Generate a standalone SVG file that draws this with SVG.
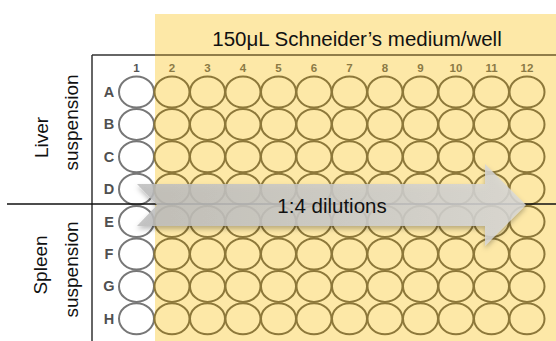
<svg xmlns="http://www.w3.org/2000/svg" width="556" height="341" viewBox="0 0 556 341">
<style>
.t{font-family:"Liberation Sans",Arial,sans-serif;fill:#111}
.lbl{font-size:19px}
.rowl{font-family:"Liberation Sans",Arial,sans-serif;font-weight:bold;font-size:14.5px;fill:#505050;text-anchor:middle}
.coln{font-family:"Liberation Sans",Arial,sans-serif;font-weight:bold;font-size:11.5px;fill:#8b7a45;text-anchor:middle}
.w1{fill:none;stroke:#777;stroke-width:2}
.w{fill:none;stroke:#8d783a;stroke-width:2}
</style>
<defs>
<linearGradient id="ag" x1="0" y1="0" x2="1" y2="0">
<stop offset="0" stop-color="#bcbcbc"/>
<stop offset="1" stop-color="#d8d8d8"/>
</linearGradient>
<filter id="sh" x="-5%" y="-20%" width="110%" height="150%">
<feDropShadow dx="0" dy="3" stdDeviation="2.5" flood-color="#000" flood-opacity="0.3"/>
</filter>
</defs>
<rect width="556" height="341" fill="#fff"/>
<g id="medium">
<rect x="155" y="14" width="401" height="327" fill="#fde8a7"/>
<text class="t" x="357" y="46" font-size="20.5" text-anchor="middle">150μL Schneider’s medium/well</text>
</g>
<g id="plate">
<line x1="92" y1="55" x2="92" y2="341" stroke="#333" stroke-width="1.5"/>
<line x1="92" y1="55" x2="155" y2="55" stroke="#333" stroke-width="1.5"/>
<line x1="155" y1="55" x2="556" y2="55" stroke="#6b5a2a" stroke-width="1.5"/>
<g id="col-numbers">
<text class="coln" x="136.5" y="72" style="fill:#555">1</text>
<text class="coln" x="172" y="72">2</text>
<text class="coln" x="207.5" y="72">3</text>
<text class="coln" x="243" y="72">4</text>
<text class="coln" x="278.5" y="72">5</text>
<text class="coln" x="314" y="72">6</text>
<text class="coln" x="349.5" y="72">7</text>
<text class="coln" x="385" y="72">8</text>
<text class="coln" x="420.5" y="72">9</text>
<text class="coln" x="456" y="72">10</text>
<text class="coln" x="491.5" y="72">11</text>
<text class="coln" x="527" y="72">12</text>
</g>
<g id="row-letters">
<text class="rowl" x="109" y="97">A</text>
<text class="rowl" x="109" y="129.4">B</text>
<text class="rowl" x="109" y="161.8">C</text>
<text class="rowl" x="109" y="194.2">D</text>
<text class="rowl" x="109" y="226.6">E</text>
<text class="rowl" x="109" y="259">F</text>
<text class="rowl" x="109" y="291.4">G</text>
<text class="rowl" x="109" y="323.8">H</text>
</g>
<g id="wells">
<g id="col1">
<ellipse class="w1" cx="136.5" cy="92" rx="17.5" ry="15.5"/>
<ellipse class="w1" cx="136.5" cy="124.4" rx="17.5" ry="15.5"/>
<ellipse class="w1" cx="136.5" cy="156.8" rx="17.5" ry="15.5"/>
<ellipse class="w1" cx="136.5" cy="189.2" rx="17.5" ry="15.5"/>
<ellipse class="w1" cx="136.5" cy="221.6" rx="17.5" ry="15.5"/>
<ellipse class="w1" cx="136.5" cy="254" rx="17.5" ry="15.5"/>
<ellipse class="w1" cx="136.5" cy="286.4" rx="17.5" ry="15.5"/>
<ellipse class="w1" cx="136.5" cy="318.8" rx="17.5" ry="15.5"/>
</g>
<g id="rowA" transform="translate(0,92)">
<ellipse class="w" cx="172" cy="0" rx="17.5" ry="15.5"/><ellipse class="w" cx="207.5" cy="0" rx="17.5" ry="15.5"/><ellipse class="w" cx="243" cy="0" rx="17.5" ry="15.5"/><ellipse class="w" cx="278.5" cy="0" rx="17.5" ry="15.5"/><ellipse class="w" cx="314" cy="0" rx="17.5" ry="15.5"/><ellipse class="w" cx="349.5" cy="0" rx="17.5" ry="15.5"/><ellipse class="w" cx="385" cy="0" rx="17.5" ry="15.5"/><ellipse class="w" cx="420.5" cy="0" rx="17.5" ry="15.5"/><ellipse class="w" cx="456" cy="0" rx="17.5" ry="15.5"/><ellipse class="w" cx="491.5" cy="0" rx="17.5" ry="15.5"/><ellipse class="w" cx="527" cy="0" rx="17.5" ry="15.5"/>
</g>
<use href="#rowA" y="32.4"/>
<use href="#rowA" y="64.8"/>
<use href="#rowA" y="97.2"/>
<use href="#rowA" y="129.6"/>
<use href="#rowA" y="162"/>
<use href="#rowA" y="194.4"/>
<use href="#rowA" y="226.8"/>
</g>
</g>
<g id="divider">
<line x1="7" y1="204" x2="556" y2="204" stroke="#111" stroke-width="1.5"/>
</g>
<g id="liver-label">
<text class="t lbl" transform="translate(48,137.5) rotate(-90)" text-anchor="middle">Liver</text>
<text class="t lbl" transform="translate(77.5,122.5) rotate(-90)" text-anchor="middle">suspension</text>
</g>
<g id="spleen-label">
<text class="t lbl" transform="translate(47,265) rotate(-90)" text-anchor="middle">Spleen</text>
<text class="t lbl" transform="translate(77.5,269.5) rotate(-90)" text-anchor="middle">suspension</text>
</g>
<g id="connectors">
<path d="M137,184 L485,184 L485,164 L526,205 L485,246 L485,226 L137,226 L157,205 Z" fill="url(#ag)" fill-opacity="0.85" filter="url(#sh)"/>
<text class="t" x="332" y="213" font-size="20.5" text-anchor="middle">1:4 dilutions</text>
</g>
</svg>
